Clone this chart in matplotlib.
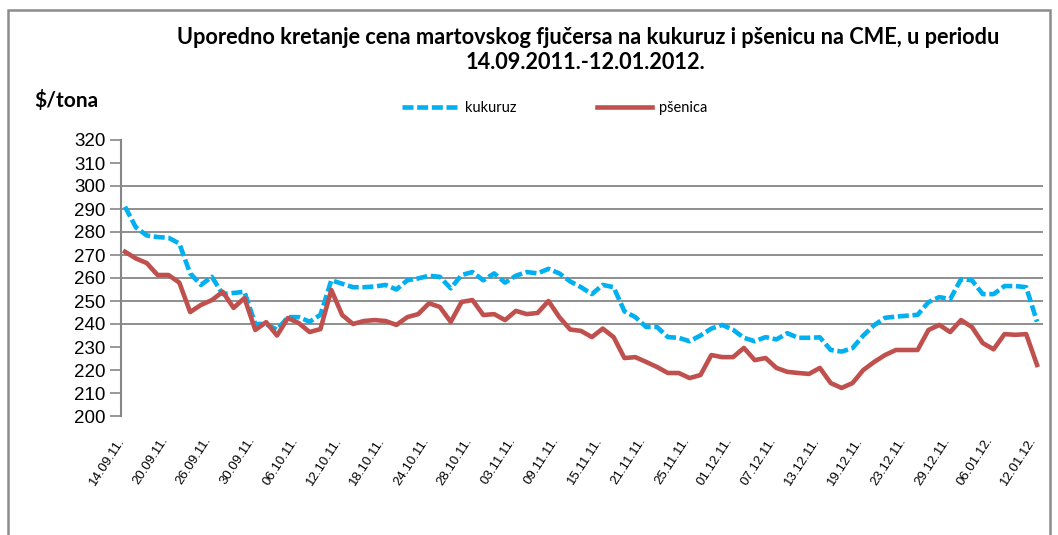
"""Corn vs wheat March futures on CME, 14.09.2011 - 12.01.2012."""

import matplotlib.pyplot as plt
import matplotlib.patches as mpatches
from matplotlib.transforms import ScaledTranslation

# ---------------------------------------------------------------------------
# Data ($/tona, one point per trading day)
# ---------------------------------------------------------------------------

kukuruz = [
    291.0, 282.0, 278.5, 277.8, 277.5, 275.0, 262.0, 257.0, 260.5, 253.0,
    253.5, 254.0, 240.0, 240.0, 237.5, 243.0, 243.0, 241.0, 244.0, 259.0,
    257.5, 256.0, 256.0, 256.3, 257.0, 255.0, 259.0, 259.8, 261.0, 260.5,
    255.5, 261.3, 262.6, 259.0, 262.0, 258.0, 261.0, 262.6, 262.0, 264.0,
    262.0, 258.5, 256.0, 253.0, 257.0, 256.0, 245.5, 243.0, 238.7, 238.7,
    234.3, 234.0, 232.5, 235.0, 238.0, 239.6, 237.5, 234.0, 232.5, 234.3,
    233.3, 236.0, 234.0, 234.0, 234.2, 228.7, 228.0, 229.5, 235.0, 239.5,
    242.7, 243.2, 243.6, 244.0, 249.5, 251.7, 250.8, 259.5, 259.0, 253.0,
    253.0, 256.5, 256.5, 256.0, 241.0,
]

psenica = [
    271.4, 268.5, 266.5, 261.3, 261.3, 258.0, 245.2, 248.3, 250.4, 254.0,
    247.0, 251.3, 237.4, 240.8, 235.0, 242.6, 240.4, 236.5, 237.8, 254.8,
    243.9, 240.0, 241.3, 241.7, 241.3, 239.6, 243.0, 244.3, 249.0, 247.4,
    240.9, 249.6, 250.4, 243.9, 244.3, 241.7, 245.7, 244.3, 244.8, 250.0,
    243.0, 237.6, 237.0, 234.3, 238.0, 234.3, 225.2, 225.6, 223.5, 221.3,
    218.7, 218.7, 216.5, 217.8, 226.5, 225.6, 225.6, 229.6, 224.3, 225.2,
    220.9, 219.2, 218.7, 218.3, 220.9, 214.3, 212.2, 214.3, 220.0, 223.5,
    226.5, 228.7, 228.7, 228.7, 237.4, 239.6, 236.5, 241.7, 238.7, 231.7,
    229.0, 235.6, 235.3, 235.6, 222.2,
]

# every 4th trading day gets a label
date_labels = [
    "14.09.11.", "20.09.11.", "26.09.11.", "30.09.11.", "06.10.11.",
    "12.10.11.", "18.10.11.", "24.10.11.", "28.10.11.", "03.11.11.",
    "09.11.11.", "15.11.11.", "21.11.11.", "25.11.11.", "01.12.11.",
    "07.12.11.", "13.12.11.", "19.12.11.", "23.12.11.", "29.12.11.",
    "06.01.12.", "12.01.12.",
]
label_step = 4

y_ticks = list(range(200, 330, 10))
grid_values = [240, 250, 260, 270, 280, 290, 300]

# ---------------------------------------------------------------------------
# Plot
# ---------------------------------------------------------------------------

W, H = 1058, 535
fig = plt.figure(figsize=(W / 100, H / 100), dpi=100)
fig.patch.set_facecolor("white")

# outer chart frame
fig.patches.append(mpatches.Rectangle(
    (8 / W, -0.05), (1050 - 8) / W, 1.05 - 10 / H,
    transform=fig.transFigure, fill=False, edgecolor="#8c8c8c", linewidth=1.8,
))

ax = fig.add_axes([121 / W, 1 - 416 / H, (1043 - 121) / W, (416 - 140) / H])

x = list(range(len(kukuruz)))
ax.plot(x, kukuruz, color="#00b0f0", linewidth=3.3, linestyle=(0, (2.4, 0.8)),
        label="kukuruz")
ax.plot(x, psenica, color="#c0504d", linewidth=3.3, label="pšenica")

for v in grid_values:
    ax.axhline(v, color="#868686", linewidth=1.3, zorder=0)

ax.set_xlim(-0.37, 84.55)
ax.set_ylim(200, 320)
ax.set_yticks(y_ticks)
ax.set_yticklabels([str(v) for v in y_ticks], fontsize=13.5, family="Liberation Sans")
ax.tick_params(axis="y", length=8, width=1.2, color="#868686", pad=3)

ax.set_xticks(list(range(0, len(kukuruz), label_step)))
ax.set_xticklabels(date_labels, rotation=57, ha="right", va="center",
                   rotation_mode="anchor", fontsize=9.5, family="Liberation Sans")
ax.tick_params(axis="x", length=0, pad=16)
shift = ScaledTranslation(-3 / 100, 0, fig.dpi_scale_trans)
for lbl in ax.get_xticklabels():
    lbl.set_transform(lbl.get_transform() + shift)

for side in ("top", "right", "bottom"):
    ax.spines[side].set_visible(False)
ax.spines["left"].set_color("#868686")
ax.spines["left"].set_linewidth(1.5)

# titles and axis unit
fig.text(588 / W, 1 - 38 / H,
         "Uporedno kretanje cena martovskog fjučersa na kukuruz i pšenicu na CME, u periodu",
         ha="center", va="center", fontsize=15.7, fontweight="bold", family="Lato")
fig.text(585 / W, 1 - 62 / H, "14.09.2011.-12.01.2012.",
         ha="center", va="center", fontsize=15.7, fontweight="bold", family="Lato")
fig.text(34 / W, 1 - 101 / H, "$/tona", ha="left", va="center",
         fontsize=15, fontweight="bold", family="Lato")

ax.legend(loc="center", bbox_to_anchor=(555 / W, 1 - 108 / H),
          bbox_transform=fig.transFigure, ncol=2, frameon=False,
          prop={"family": "Lato", "size": 10.5}, handlelength=3.8,
          columnspacing=5.5, handletextpad=0.5)

fig.savefig("out.png", dpi=100)
